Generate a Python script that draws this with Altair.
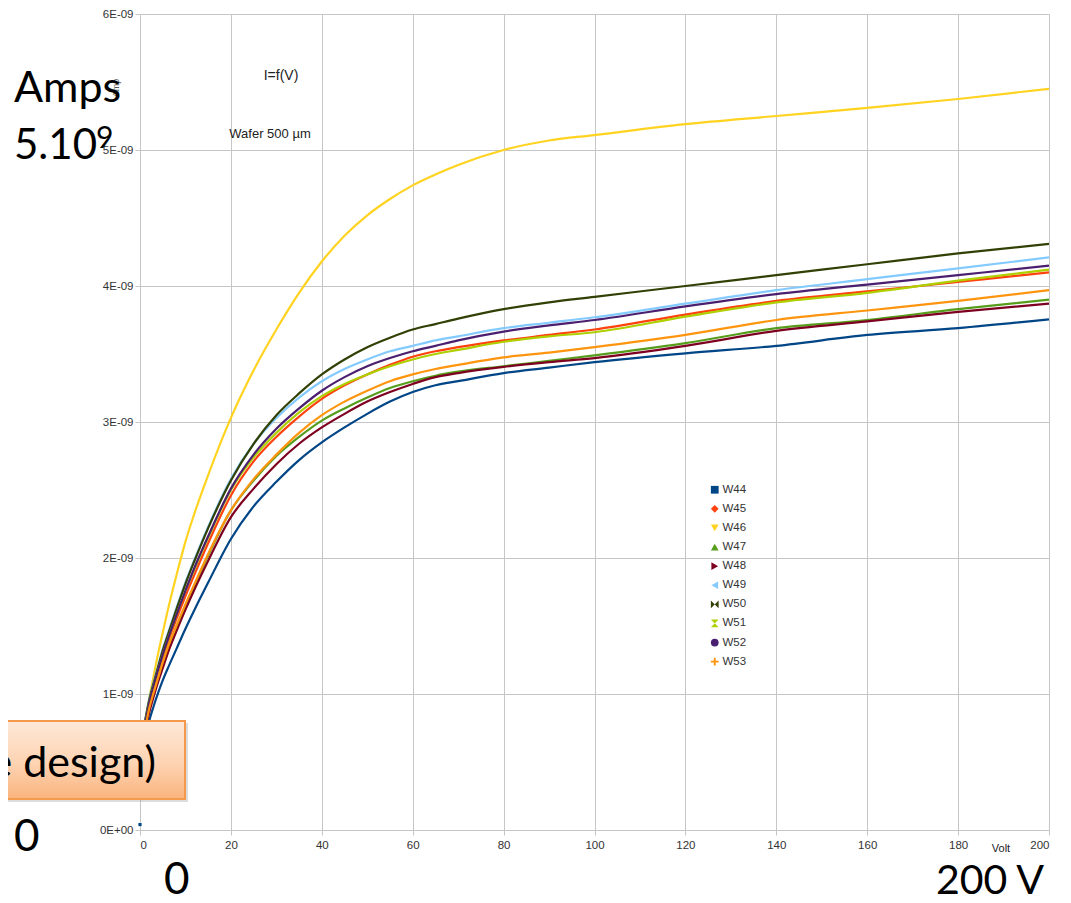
import altair as alt
import pandas as pd

# ---------------- data (current in units of 1E-09 A) ----------------
VOLTS = [1, 2, 3, 4, 5, 6, 8, 10, 12, 15, 20, 25, 30, 35, 40, 45, 50, 55, 60, 65,
         70, 80, 90, 100, 120, 140, 160, 180, 200]

W44 = [0.66, 0.80, 0.91, 1.01, 1.10, 1.18, 1.33, 1.48, 1.62, 1.82, 2.14, 2.38, 2.56, 2.72, 2.85,
       2.96, 3.06, 3.15, 3.22, 3.27, 3.30, 3.36, 3.40, 3.44, 3.505, 3.56, 3.64, 3.69, 3.755]
W45 = [0.74, 0.91, 1.04, 1.16, 1.27, 1.37, 1.55, 1.72, 1.88, 2.11, 2.46, 2.71, 2.89, 3.04, 3.17,
       3.27, 3.35, 3.42, 3.48, 3.52, 3.55, 3.60, 3.64, 3.68, 3.79, 3.89, 3.96, 4.03, 4.10]
W46 = [0.75, 0.96, 1.13, 1.30, 1.45, 1.60, 1.87, 2.12, 2.33, 2.61, 3.03, 3.38, 3.68, 3.95, 4.18,
       4.37, 4.52, 4.64, 4.74, 4.82, 4.89, 5.00, 5.07, 5.11, 5.19, 5.25, 5.31, 5.375, 5.45]
W47 = [0.71, 0.88, 1.00, 1.11, 1.22, 1.32, 1.49, 1.65, 1.80, 2.02, 2.35, 2.57, 2.75, 2.89, 3.01,
       3.10, 3.18, 3.25, 3.30, 3.34, 3.37, 3.41, 3.45, 3.49, 3.58, 3.69, 3.75, 3.83, 3.90]
W48 = [0.70, 0.86, 0.98, 1.09, 1.19, 1.29, 1.46, 1.62, 1.77, 1.98, 2.30, 2.51, 2.69, 2.84, 2.96,
       3.06, 3.15, 3.22, 3.28, 3.33, 3.36, 3.405, 3.44, 3.47, 3.56, 3.67, 3.74, 3.81, 3.87]
W49 = [0.78, 0.96, 1.09, 1.21, 1.33, 1.43, 1.63, 1.82, 1.99, 2.23, 2.58, 2.84, 3.03, 3.18, 3.30,
       3.39, 3.46, 3.52, 3.56, 3.60, 3.63, 3.69, 3.73, 3.77, 3.87, 3.97, 4.05, 4.13, 4.21]
W50 = [0.78, 0.95, 1.08, 1.20, 1.32, 1.42, 1.62, 1.81, 1.98, 2.22, 2.57, 2.84, 3.05, 3.21, 3.35,
       3.46, 3.55, 3.62, 3.68, 3.72, 3.76, 3.83, 3.88, 3.92, 4.00, 4.08, 4.16, 4.24, 4.31]
W51 = [0.76, 0.93, 1.06, 1.18, 1.29, 1.39, 1.58, 1.76, 1.92, 2.15, 2.50, 2.74, 2.92, 3.07, 3.19,
       3.28, 3.35, 3.41, 3.46, 3.50, 3.53, 3.59, 3.63, 3.66, 3.775, 3.88, 3.95, 4.04, 4.12]
W52 = [0.76, 0.93, 1.06, 1.18, 1.29, 1.39, 1.58, 1.76, 1.93, 2.16, 2.51, 2.76, 2.95, 3.10, 3.23,
       3.33, 3.41, 3.47, 3.52, 3.56, 3.60, 3.665, 3.71, 3.75, 3.85, 3.94, 4.01, 4.08, 4.15]
W53 = [0.72, 0.89, 1.01, 1.12, 1.23, 1.33, 1.50, 1.66, 1.81, 2.03, 2.35, 2.58, 2.76, 2.92, 3.05,
       3.15, 3.23, 3.30, 3.35, 3.39, 3.42, 3.475, 3.51, 3.55, 3.64, 3.75, 3.82, 3.89, 3.97]

W44_AT_0V = 0.04   # single first sample of W44 at 0 V

NAMES = ["W44", "W45", "W46", "W47", "W48", "W49", "W50", "W51", "W52", "W53"]
SERIES = [W44, W45, W46, W47, W48, W49, W50, W51, W52, W53]
COLORS = ["#004586", "#ff420e", "#ffd320", "#579d1c", "#7e0021",
          "#83caff", "#314004", "#aecf00", "#4b1f6f", "#ff950e"]
BOWTIE = "M-1,-1L1,1L1,-1L-1,1Z"
HOURGLASS = "M-1,-1L1,-1L-1,1L1,1Z"
PLUS = "M-0.25,-1H0.25V-0.25H1V0.25H0.25V1H-0.25V0.25H-1V-0.25H-0.25Z"
SHAPES = ["square", "diamond", "triangle-down", "triangle-up", "triangle-right",
          "triangle-left", BOWTIE, HOURGLASS, "circle", PLUS]
X_TICKS = list(range(0, 201, 20))
Y_TICKS = [0, 1e-9, 2e-9, 3e-9, 4e-9, 5e-9, 6e-9]

rows = []
for name, vals in zip(NAMES, SERIES):
    for v, i in zip(VOLTS, vals):
        rows.append({"Volt": v, "Amp": i * 1e-9, "Wafer": name})
df = pd.DataFrame(rows)
df0 = pd.DataFrame([{"Volt": 0, "Amp": W44_AT_0V * 1e-9, "Wafer": "W44"}])

W, H = 909, 816
GRID = "#c6c6c6"

xenc = alt.X("Volt:Q", scale=alt.Scale(domain=[0, 200], nice=False),
             axis=alt.Axis(values=X_TICKS, title=None, grid=True, gridColor=GRID,
                           domain=False, tickColor=GRID, tickSize=5, labelPadding=4,
                           labelFont="Liberation Sans", labelFontSize=11.5,
                           labelColor="#333333"))
yenc = alt.Y("Amp:Q", scale=alt.Scale(domain=[0, 6e-9], nice=False),
             axis=alt.Axis(values=Y_TICKS, title=None, grid=True, gridColor=GRID,
                           domain=False, tickColor=GRID, tickSize=5, labelPadding=2,
                           labelFont="Liberation Sans", labelFontSize=11.5,
                           labelColor="#333333",
                           labelExpr="datum.value == 0 ? '0E+00' : round(datum.value*1e9) + 'E-09'"))

lines = alt.Chart(df).mark_line(strokeWidth=2.2, interpolate="monotone").encode(
    x=xenc, y=yenc,
    color=alt.Color("Wafer:N", scale=alt.Scale(domain=NAMES, range=COLORS), legend=None),
    detail="Wafer:N",
)

legend = alt.Legend(orient="none", legendX=569, legendY=470, title=None,
                    labelFont="Liberation Sans", labelFontSize=11.5, labelColor="#333333",
                    symbolSize=60, symbolStrokeWidth=0, rowPadding=6.1, padding=0,
                    labelOffset=2, symbolOpacity=1)
first_pt = alt.Chart(df0).mark_point(filled=True, size=10, opacity=1).encode(
    x=alt.X("Volt:Q"), y=alt.Y("Amp:Q"),
    color=alt.Color("Wafer:N", scale=alt.Scale(domain=NAMES, range=COLORS), legend=legend),
    shape=alt.Shape("Wafer:N", scale=alt.Scale(domain=NAMES, range=SHAPES), legend=legend),
)

one = alt.Data(values=[{}])


def txt(s, x, y, size, font="Liberation Sans", color="#222222", align="left",
        baseline="alphabetic", angle=0):
    kw = dict(font=font, fontSize=size, color=color, align=align, baseline=baseline)
    if angle:
        kw["angle"] = angle
    return alt.Chart(one).mark_text(**kw).encode(
        x=alt.value(x), y=alt.value(y), text=alt.value(s))


box_fill = alt.Gradient(gradient="linear", x1=0, y1=0, x2=0, y2=1,
                        stops=[alt.GradientStop(color="#fee8d8", offset=0),
                               alt.GradientStop(color="#fdd3b2", offset=0.55),
                               alt.GradientStop(color="#fab37d", offset=1)])
box_shadow = alt.Chart(one).mark_rect(color="#9a9a9a", opacity=0.35).encode(
    x=alt.value(-150), x2=alt.value(48), y=alt.value(709), y2=alt.value(788))
box = alt.Chart(one).mark_rect(fill=box_fill, stroke="#f59a4c", strokeWidth=2).encode(
    x=alt.value(-152), x2=alt.value(45), y=alt.value(707), y2=alt.value(785))
left_rule = alt.Chart(one).mark_rule(color="#d0d0d0", strokeWidth=1).encode(
    x=alt.value(-138), y=alt.value(-14), y2=alt.value(281))

annotations = [
    txt("I=f(V)", 141, 66, 14, align="center"),
    txt("Wafer 500 µm", 130, 124, 13, align="center"),
    txt("Volt", 861, 838, 11, align="center"),
    txt("Amp", -24, 74, 9, color="#555555", align="center", baseline="middle", angle=270),
    txt("Amps", -126, 88, 43, font="Lato", color="#000000"),
    txt("5.10", -126, 145, 42, font="Lato", color="#000000"),
    txt("9", -44, 134, 30, font="Lato", color="#000000"),
    txt("0", -126, 837, 44, font="Lato", color="#000000"),
    txt("0", 24, 880, 44, font="Lato", color="#000000"),
    txt("200 V", 904, 880, 41, font="Lato", color="#000000", align="right"),
]

chart = alt.layer(
    lines, first_pt, left_rule, box_shadow, box,
    txt("e design)", 16, 763, 43, font="Lato", color="#000000", align="right"),
    *annotations,
).resolve_scale(color="independent", shape="independent").resolve_legend(
    color="independent", shape="independent"
).properties(
    width=W, height=H,
    autosize=alt.AutoSizeParams(type="none"),
    padding={"left": 132, "top": 6, "right": 14, "bottom": 65},
    background="#ffffff",
).configure_view(stroke="transparent")

chart.save("out.html", embed_options={"renderer": "svg", "actions": False})
